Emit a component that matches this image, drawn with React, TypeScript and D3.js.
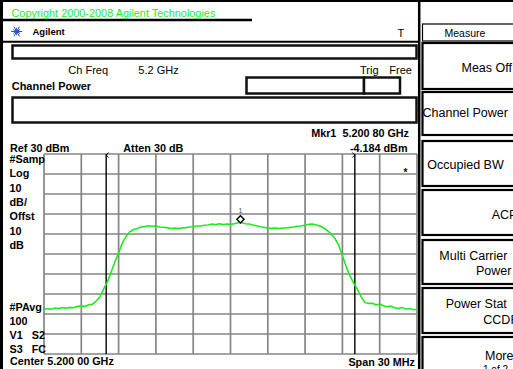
import React from 'react';
import * as d3 from 'd3';

const W = 513;
const H = 369;

// Spectrum trace: [offset from centre in MHz, level in dBm]
const trace: [number, number][] = [
  [-15.0, -47.8], [-14.7, -47.3], [-14.4, -47.6], [-14.1, -47.0], [-13.8, -47.3],
  [-13.5, -46.8], [-13.2, -47.1], [-12.9, -46.7], [-12.6, -46.9], [-12.3, -46.2],
  [-12.0, -46.0], [-11.7, -46.2], [-11.4, -45.4], [-11.1, -45.1], [-10.8, -43.5],
  [-10.5, -41.4], [-10.2, -37.4], [-9.9, -34.0], [-9.6, -29.0], [-9.3, -24.0],
  [-9.0, -19.3], [-8.7, -14.6], [-8.4, -11.2], [-8.1, -8.9], [-7.8, -7.8],
  [-7.5, -7.2], [-7.2, -6.5], [-6.9, -6.3], [-6.6, -5.9], [-6.3, -6.1],
  [-6.0, -6.0], [-5.7, -6.5], [-5.4, -6.6], [-5.1, -6.9], [-4.8, -7.3],
  [-4.5, -7.0], [-4.2, -7.3], [-3.9, -7.0], [-3.6, -6.8], [-3.3, -6.5],
  [-3.0, -6.4], [-2.7, -6.0], [-2.4, -6.0], [-2.1, -5.6], [-1.8, -5.5],
  [-1.5, -5.0], [-1.2, -5.3], [-0.9, -4.9], [-0.6, -5.3], [-0.3, -5.0],
  [0.0, -5.2], [0.3, -4.9], [0.6, -4.4], [0.8, -4.184], [0.9, -4.3], [1.2, -4.9],
  [1.5, -5.0], [1.8, -5.5], [2.1, -5.9], [2.4, -6.4], [2.7, -6.6],
  [3.0, -7.1], [3.3, -7.2], [3.6, -7.0], [3.9, -7.3], [4.2, -7.0],
  [4.5, -7.0], [4.8, -6.7], [5.1, -6.5], [5.4, -6.1], [5.7, -6.0],
  [6.0, -5.5], [6.3, -5.2], [6.6, -5.0], [6.9, -5.5], [7.2, -6.0],
  [7.5, -7.0], [7.8, -8.3], [8.1, -10.0], [8.4, -12.3], [8.7, -15.6],
  [9.0, -20.7], [9.3, -26.4], [9.6, -30.8], [9.9, -34.4], [10.2, -37.6],
  [10.5, -41.3], [10.8, -44.2], [11.1, -44.7], [11.4, -44.6], [11.7, -45.4],
  [12.0, -45.0], [12.3, -45.9], [12.6, -46.4], [12.9, -46.1], [13.2, -46.9],
  [13.5, -47.3], [13.8, -46.8], [14.1, -47.5], [14.4, -47.3], [14.7, -47.9],
  [15.0, -47.6],
];

const xGridMHz = [-15, -12, -9, -6, -3, 0, 3, 6, 9, 12, 15];
const yGridDbm = [30, 20, 10, 0, -10, -20, -30, -40, -50, -60, -70];
const channelEdgesMHz = [-10, 10];
const markerOffsetMHz = 0.8;
const markerLevelDbm = -4.184;

const leftTopLabels = ['#Samp', 'Log', '10', 'dB/', 'Offst', '10', 'dB'];
const leftBottomLabels = [['#PAvg', ''], ['100', ''], ['V1', 'S2'], ['S3', 'FC']];
const softkeyTitle = 'Measure';
const softkeyLabels = [
  ['Meas Off'], ['Channel Power'], ['Occupied BW'], ['ACP'],
  ['Multi Carrier', 'Power'], ['Power Stat', 'CCDF'], ['More', '1 of 2'],
];

const FONT = '"Liberation Sans", Arial, Helvetica, sans-serif';
const GREEN = '#1eea1e';

export default function App() {
  const x = d3.scaleLinear().domain([-15, 15]).range([44, 417]);
  const y = d3.scaleLinear().domain([-70, 30]).range([354, 154]);
  const line = d3.line<[number, number]>().x(d => x(d[0])).y(d => y(d[1]));

  const mx = x(markerOffsetMHz);
  const my = y(markerLevelDbm) - 3;

  const keyBoxes = [[43, 89], [92, 135], [141, 186], [190, 235], [240, 284], [288, 333], [337, 392]];
  const keyText: [number, number][][] = [
    [[461.5, 72]],
    [[422.5, 117]],
    [[427.3, 169]],
    [[491.7, 219]],
    [[439.3, 260], [476, 275]],
    [[445.7, 308], [483.3, 324]],
    [[485, 359.5], [483, 373]],
  ];

  const starAngles = d3.range(0, 360, 30);

  return (
    <svg width={W} height={H} style={{ position: 'absolute', left: 0, top: 0, background: '#fff' }}
      fontFamily={FONT}>
      <rect x={0} y={0} width={W} height={H} fill="#fff" />

      {/* top frame */}
      <line x1={0} x2={W} y1={1} y2={1} stroke="#000" strokeWidth={2} />
      <line x1={0} x2={252} y1={20} y2={20} stroke="#000" strokeWidth={2.5} />
      <line x1={1.5} x2={1.5} y1={0} y2={H} stroke="#000" strokeWidth={3} />
      <text x={11.5} y={17} fontSize={10.9} fill={GREEN}>Copyright 2000-2008 Agilent Technologies</text>

      {/* Agilent logo */}
      <g transform="translate(16.7,31.5)" stroke="#2a4fd6" strokeWidth={1}>
        {starAngles.map(a => {
          const r = (a % 60 === 0) ? 5.5 : 3.8;
          const rad = (a * Math.PI) / 180;
          return <line key={a} x1={0} y1={0} x2={r * Math.cos(rad)} y2={r * Math.sin(rad)} />;
        })}
        <circle r={1.2} fill="#2a4fd6" />
      </g>
      <text x={32.5} y={35} fontSize={9.5} fontWeight="bold">Agilent</text>
      <text x={397.5} y={36.5} fontSize={11}>T</text>

      {/* main panel frame */}
      <line x1={0} x2={420} y1={41.8} y2={41.8} stroke="#000" strokeWidth={2} />
      <line x1={419.2} x2={419.2} y1={0} y2={H} stroke="#000" strokeWidth={2.5} />

      <rect x={12.5} y={45.5} width={404} height={13} fill="#fff" stroke="#111" strokeWidth={2.5} />
      <text x={68.3} y={74} fontSize={11}>Ch Freq</text>
      <text x={138.3} y={74} fontSize={11}>5.2 GHz</text>
      <text x={360} y={74} fontSize={11}>Trig</text>
      <text x={389.3} y={74} fontSize={11}>Free</text>
      <text x={11.7} y={90} fontSize={11} fontWeight="bold">Channel Power</text>
      <rect x={246.5} y={77.5} width={117.5} height={16} fill="#fff" stroke="#111" strokeWidth={2.5} />
      <rect x={364} y={77.5} width={36} height={16} fill="#fff" stroke="#111" strokeWidth={2.5} />
      <rect x={12.5} y={97.5} width={404} height={25} fill="#fff" stroke="#111" strokeWidth={2.5} />

      <text x={409} y={137} fontSize={10.8} fontWeight="bold" textAnchor="end" style={{ whiteSpace: 'pre' }}>Mkr1  5.200 80 GHz</text>
      <text x={10} y={152} fontSize={10.8} fontWeight="bold">Ref 30 dBm</text>
      <text x={123.3} y={152} fontSize={10.8} fontWeight="bold">Atten 30 dB</text>
      <text x={407.5} y={152} fontSize={10.8} fontWeight="bold" textAnchor="end">-4.184 dBm</text>

      {/* graticule */}
      <g stroke="#858585" strokeWidth={1.7}>
        {xGridMHz.map(f => <line key={'v' + f} x1={x(f)} x2={x(f)} y1={y(30)} y2={y(-70)} />)}
        {yGridDbm.map(l => <line key={'h' + l} x1={x(-15)} x2={x(15)} y1={y(l)} y2={y(l)} />)}
      </g>

      {/* channel integration limits */}
      {channelEdgesMHz.map(f => {
        const cx = x(f);
        const dir = f < 0 ? 1 : -1;
        return (
          <g key={'ch' + f} stroke="#000" fill="none">
            <line x1={cx} x2={cx} y1={y(30)} y2={y(-70)} strokeWidth={1.4} />
            <path d={`M${cx + dir * 2.5},${y(30) - 1.5} L${cx},${y(30) + 1} L${cx + dir * 2.5},${y(30) + 3.5}`} strokeWidth={1} />
          </g>
        );
      })}

      <text x={405.5} y={176} fontSize={10} fontWeight="bold" textAnchor="middle">*</text>

      {/* trace */}
      <path d={line(trace) || ''} fill="none" stroke={GREEN} strokeWidth={1.6} />

      {/* marker */}
      <path d={`M${mx},${my - 3.6} L${mx + 3.6},${my} L${mx},${my + 3.6} L${mx - 3.6},${my} Z`}
        fill="#fff" stroke="#000" strokeWidth={1.4} />
      <text x={mx} y={my - 6.5} fontSize={7} fill="#555" textAnchor="middle">1</text>

      {/* left annotation column */}
      {leftTopLabels.map((t, i) => (
        <text key={'lt' + i} x={9.5} y={163 + i * 14.3} fontSize={10.8} fontWeight="bold">{t}</text>
      ))}
      {leftBottomLabels.map((pair, i) => (
        <g key={'lb' + i}>
          <text x={9.5} y={310.5 + i * 14} fontSize={10.8} fontWeight="bold">{pair[0]}</text>
          {pair[1] && <text x={31.7} y={310.5 + i * 14} fontSize={10.8} fontWeight="bold">{pair[1]}</text>}
        </g>
      ))}
      <text x={10} y={365} fontSize={10.8} fontWeight="bold">Center 5.200 00 GHz</text>
      <text x={415} y={365.5} fontSize={10.8} fontWeight="bold" textAnchor="end">Span 30 MHz</text>

      {/* softkeys */}
      <rect x={422.5} y={24} width={100} height={17} fill="#fff" stroke="#000" strokeWidth={1.2} />
      <text x={444.5} y={36.5} fontSize={10.5}>{softkeyTitle}</text>
      {keyBoxes.map((b, i) => (
        <g key={'k' + i}>
          <rect x={422.5} y={b[0]} width={100} height={b[1] - b[0]} fill="#fff" stroke="#000" strokeWidth={2.2} />
          {softkeyLabels[i].map((t, j) => (
            <text key={j} x={keyText[i][j][0]} y={keyText[i][j][1]}
              fontSize={i === 6 && j === 1 ? 10 : 12.5}>{t}</text>
          ))}
        </g>
      ))}
    </svg>
  );
}
